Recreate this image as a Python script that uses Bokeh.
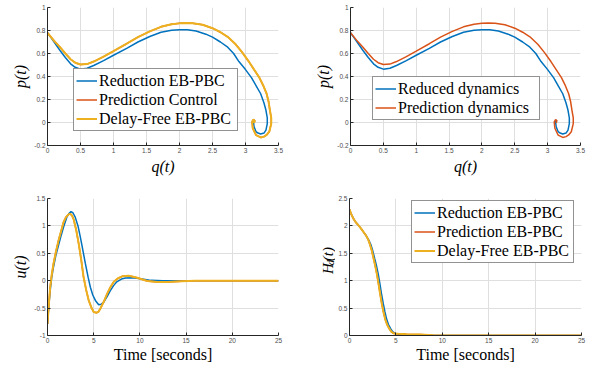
import math
from bokeh.plotting import figure
from bokeh.layouts import column, row
from bokeh.models import FixedTicker, Legend, LegendItem, Range1d
from bokeh.core.properties import value
from bokeh.embed import file_html
from bokeh.resources import INLINE

# ---------------- data ----------------
# Phase portrait: Reduction EB-PBC / Reduced dynamics
red_q = [0.00, 0.05, 0.10, 0.19, 0.27, 0.35, 0.42, 0.50, 0.60, 0.70, 0.85, 1.00,
         1.20, 1.37, 1.55, 1.72, 1.88, 2.00, 2.12, 2.25, 2.40, 2.50, 2.62, 2.73,
         2.82, 2.90, 3.00, 3.09, 3.17, 3.23, 3.28, 3.31, 3.33, 3.33, 3.31, 3.28,
         3.23, 3.19, 3.16, 3.13, 3.12, 3.13, 3.14]
red_p = [0.780, 0.740, 0.700, 0.626, 0.565, 0.510, 0.480, 0.464, 0.472, 0.496, 0.538, 0.585,
         0.645, 0.700, 0.748, 0.785, 0.802, 0.807, 0.806, 0.795, 0.768, 0.742, 0.700, 0.655,
         0.600, 0.530, 0.460, 0.390, 0.310, 0.250, 0.170, 0.106, 0.040, -0.010, -0.066, -0.092,
         -0.100, -0.092, -0.080, -0.037, 0.006, 0.020, 0.010]

# Phase portrait: Delay-Free EB-PBC (Prediction curve lies exactly underneath)
df_q = [0.00, 0.05, 0.10, 0.19, 0.27, 0.35, 0.42, 0.50, 0.60, 0.70, 0.85, 1.00,
        1.20, 1.37, 1.55, 1.72, 1.88, 2.00, 2.10, 2.20, 2.35, 2.50, 2.62, 2.73,
        2.85, 2.95, 3.05, 3.13, 3.21, 3.27, 3.32, 3.35, 3.37, 3.39, 3.39, 3.36,
        3.32, 3.28, 3.23, 3.16, 3.11, 3.10, 3.12, 3.14, 3.13]
df_p = [0.780, 0.745, 0.710, 0.655, 0.600, 0.550, 0.520, 0.504, 0.508, 0.530, 0.573, 0.620,
        0.685, 0.742, 0.792, 0.832, 0.855, 0.862, 0.865, 0.864, 0.850, 0.820, 0.785, 0.745,
        0.680, 0.610, 0.530, 0.460, 0.390, 0.320, 0.250, 0.180, 0.106, 0.040, -0.010, -0.080,
        -0.108, -0.123, -0.130, -0.110, -0.050, 0.006, 0.026, 0.014, -0.005]
pred_q = list(df_q)
pred_p = list(df_p)

# Control input u(t)
u_red_t = [0, 0.15, 0.29, 0.45, 0.65, 0.9, 1.2, 1.5, 1.74, 2.1, 2.3, 2.54, 2.75, 3.0, 3.3,
           3.55, 3.8, 4.1, 4.4, 4.64, 4.9, 5.18, 5.54, 5.8, 6.09, 6.45, 6.8, 7.15, 7.5, 8.0,
           8.44, 9.17, 10.1, 11.2, 12.5, 14, 25]
u_red = [-0.79, -0.45, -0.18, 0.05, 0.25, 0.46, 0.65, 0.84, 0.98, 1.16, 1.22, 1.26, 1.24,
         1.16, 1.0, 0.8, 0.58, 0.31, 0.06, -0.12, -0.26, -0.36, -0.44, -0.43, -0.39, -0.29,
         -0.18, -0.09, -0.02, 0.03, 0.05, 0.055, 0.037, 0.006, 0.0, 0.0, 0.0]
u_df_t = [0, 0.15, 0.29, 0.45, 0.65, 0.9, 1.2, 1.5, 1.74, 2.0, 2.28, 2.46, 2.65, 2.83, 3.1,
          3.37, 3.65, 3.9, 4.2, 4.46, 4.75, 5.0, 5.29, 5.5, 5.72, 6.1, 6.45, 6.8, 7.17, 7.6,
          8.08, 8.8, 9.7, 10.8, 11.9, 13.0, 14.5, 16, 25]
u_df = [-0.79, -0.42, -0.12, 0.1, 0.31, 0.52, 0.74, 0.92, 1.07, 1.16, 1.21, 1.22, 1.19, 1.12,
        0.93, 0.68, 0.38, 0.07, -0.18, -0.36, -0.49, -0.57, -0.585, -0.57, -0.51, -0.38,
        -0.24, -0.12, -0.02, 0.04, 0.08, 0.09, 0.055, -0.006, -0.025, -0.025, -0.01, 0.0, 0.0]
u_pred_t = list(u_df_t)
u_pred = list(u_df)

# Desired energy H_d(t)
h_df_t = [0, 0.2, 0.43, 0.7, 0.97, 1.25, 1.5, 1.8, 2.04, 2.2, 2.4, 2.6, 2.76, 2.95, 3.12,
          3.3, 3.48, 3.66, 3.84, 4.05, 4.3, 4.5, 4.73, 5.0, 5.27, 6.16, 7.6, 9.0, 10, 25]
h_df = [2.30, 2.21, 2.13, 2.06, 2.01, 1.95, 1.89, 1.82, 1.74, 1.66, 1.55, 1.40, 1.28, 1.12,
        0.95, 0.76, 0.58, 0.43, 0.30, 0.20, 0.12, 0.07, 0.04, 0.033, 0.03, 0.025, 0.02,
        0.005, 0, 0]
h_red_t = [0, 0.2, 0.43, 0.7, 0.97, 1.25, 1.5, 1.8, 2.08, 2.3, 2.5, 2.72, 2.9, 3.1, 3.27,
           3.45, 3.64, 3.82, 4.0, 4.2, 4.45, 4.65, 4.9, 5.2, 5.5, 6.5, 8.0, 9.0, 10, 25]
h_red = [2.30, 2.21, 2.13, 2.06, 2.01, 1.95, 1.89, 1.82, 1.74, 1.66, 1.55, 1.40, 1.28, 1.12,
         0.95, 0.76, 0.58, 0.43, 0.30, 0.20, 0.12, 0.07, 0.04, 0.025, 0.02, 0.01, 0.003,
         0, 0, 0]
h_pred_t = list(h_df_t)
h_pred = list(h_df)

# ticks
q_ticks = [0, 0.5, 1, 1.5, 2, 2.5, 3, 3.5]
q_tick_labels = ["0", "0.5", "1", "1.5", "2", "2.5", "3", "3.5"]
p_ticks = [-0.2, 0, 0.2, 0.4, 0.6, 0.8, 1]
p_tick_labels = ["-0.2", "0", "0.2", "0.4", "0.6", "0.8", "1"]
t_ticks = [0, 5, 10, 15, 20, 25]
t_tick_labels = ["0", "5", "10", "15", "20", "25"]
u_ticks = [-1, -0.5, 0, 0.5, 1, 1.5]
u_tick_labels = ["-1", "-0.5", "0", "0.5", "1", "1.5"]
h_ticks = [0, 0.5, 1, 1.5, 2, 2.5]
h_tick_labels = ["0", "0.5", "1", "1.5", "2", "2.5"]

# y label of the energy plot: H with subscript d, then (t)
hd_main = ["H", "(t)"]
hd_sub = ["d"]

BLUE = "#0072BD"
ORANGE = "#D95319"
YELLOW = "#EDB120"
SERIF = "Liberation Serif"


def make_fig(w, h, xr, yr, ml, mr, mt, mb, xt, xtl, yt, ytl):
    p = figure(width=w, height=h, x_range=Range1d(*xr), y_range=Range1d(*yr),
               output_backend="svg", toolbar_location=None,
               min_border_left=ml, min_border_right=mr,
               min_border_top=mt, min_border_bottom=mb)
    p.outline_line_color = None
    p.background_fill_color = "white"
    p.border_fill_color = "white"
    for ax in (p.xaxis[0], p.yaxis[0]):
        ax.axis_line_color = "#262626"
        ax.major_tick_line_color = "#262626"
        ax.major_tick_in = 3
        ax.major_tick_out = 0
        ax.minor_tick_line_color = None
        ax.major_label_text_font = "Liberation Sans"
        ax.major_label_text_font_size = "6.5px"
        ax.major_label_text_color = "#4d4d4d"
        ax.major_label_standoff = 2
        ax.axis_label_text_font = SERIF
        ax.axis_label_text_font_size = "16px"
        ax.axis_label_text_font_style = "italic"
        ax.axis_label_text_color = "black"
        ax.axis_label_standoff = 2
    p.xaxis[0].ticker = FixedTicker(ticks=xt)
    p.xaxis[0].major_label_overrides = dict(zip(xt, xtl))
    p.yaxis[0].ticker = FixedTicker(ticks=yt)
    p.yaxis[0].major_label_overrides = dict(zip(yt, ytl))
    p.xgrid[0].ticker = FixedTicker(ticks=xt)
    p.ygrid[0].ticker = FixedTicker(ticks=yt)
    p.grid.grid_line_color = "#dfdfdf"
    p.grid.grid_line_width = 1
    return p


def add_legend(p, items, loc, label_width):
    lg = Legend(items=[LegendItem(label=l, renderers=[r]) for l, r in items],
                location=loc)
    lg.border_line_color = "#262626"
    lg.border_line_width = 1
    lg.background_fill_color = "white"
    lg.background_fill_alpha = 1
    lg.label_text_font = SERIF
    lg.label_text_font_size = "16px"
    lg.label_text_color = "black"
    lg.glyph_width = 21
    lg.glyph_height = 19
    lg.label_height = 19
    lg.label_width = label_width
    lg.label_standoff = 2
    lg.padding = 2
    lg.spacing = 0
    lg.margin = 0
    p.add_layout(lg)


# ---- top-left ----
p1 = make_fig(295, 180, (0, 3.5), (-0.2, 1), 47, 17, 7, 35,
              q_ticks, q_tick_labels, p_ticks, p_tick_labels)
p1.xaxis.axis_label = "q(t)"
p1.yaxis.axis_label = "p(t)"
r1 = p1.line(red_q, red_p, line_color=BLUE, line_width=1.5)
r2 = p1.line(pred_q, pred_p, line_color=ORANGE, line_width=1.5)
r3 = p1.line(df_q, df_p, line_color=YELLOW, line_width=2)
add_legend(p1, [("Reduction EB-PBC", r1), ("Prediction Control", r2),
                ("Delay-Free EB-PBC", r3)], (26, 14), 136)

# ---- top-right ----
p2 = make_fig(295, 180, (0, 3.5), (-0.2, 1), 55, 10, 7, 35,
              q_ticks, q_tick_labels, p_ticks, p_tick_labels)
p2.xaxis.axis_label = "q(t)"
p2.yaxis.axis_label = "p(t)"
s1 = p2.line(red_q, red_p, line_color=BLUE, line_width=1.5)
s2 = p2.line(pred_q, pred_p, line_color=ORANGE, line_width=1.5)
add_legend(p2, [("Reduced dynamics", s1), ("Prediction dynamics", s2)], (22, 25), 139)

# ---- bottom-left ----
p3 = make_fig(295, 187, (0, 25), (-1, 1.5), 47, 17, 18, 32,
              t_ticks, t_tick_labels, u_ticks, u_tick_labels)
p3.xaxis.axis_label = "Time [seconds]"
p3.xaxis.axis_label_text_font_style = "normal"
p3.xaxis.axis_label_standoff = 0
p3.yaxis.axis_label = "u(t)"
p3.line(u_red_t, u_red, line_color=BLUE, line_width=1.5)
p3.line(u_pred_t, u_pred, line_color=ORANGE, line_width=1.5)
p3.line(u_df_t, u_df, line_color=YELLOW, line_width=2)

# ---- narrow strip holding the H_d(t) axis label (pixel coordinates) ----
STRIP_W = 40
lab = figure(width=STRIP_W, height=187, x_range=Range1d(0, STRIP_W), y_range=Range1d(0, 187),
             output_backend="svg", toolbar_location=None,
             x_axis_type=None, y_axis_type=None,
             min_border_left=0, min_border_right=0, min_border_top=0, min_border_bottom=0)
lab.outline_line_color = None
lab.grid.visible = False
lab.background_fill_color = "white"
lab.border_fill_color = "white"
lab.text(x=[32, 32], y=[84, 101.5], text=hd_main,
         angle=math.pi / 2, text_align="left", text_baseline="alphabetic",
         text_font=value(SERIF), text_font_style="italic",
         text_font_size="15px", text_color="black")
lab.text(x=[34.5], y=[95.8], text=hd_sub,
         angle=math.pi / 2, text_align="left", text_baseline="alphabetic",
         text_font=value(SERIF), text_font_style="italic",
         text_font_size="10.5px", text_color="black")

# ---- bottom-right ----
p4 = make_fig(590 - 295 - STRIP_W, 187, (0, 25), (0, 2.5), 14, 9, 18, 32,
              t_ticks, t_tick_labels, h_ticks, h_tick_labels)
p4.xaxis.axis_label = "Time [seconds]"
p4.xaxis.axis_label_text_font_style = "normal"
p4.xaxis.axis_label_standoff = 0
q1 = p4.line(h_red_t, h_red, line_color=BLUE, line_width=1.5)
q2 = p4.line(h_pred_t, h_pred, line_color=ORANGE, line_width=1.5)
q3 = p4.line(h_df_t, h_df, line_color=YELLOW, line_width=2)
add_legend(p4, [("Reduction EB-PBC", q1), ("Prediction EB-PBC", q2),
                ("Delay-Free EB-PBC", q3)], (62, 72), 134)

layout = column(row(p1, p2), row(p3, lab, p4))
open("out.html", "w").write(file_html(layout, INLINE))
